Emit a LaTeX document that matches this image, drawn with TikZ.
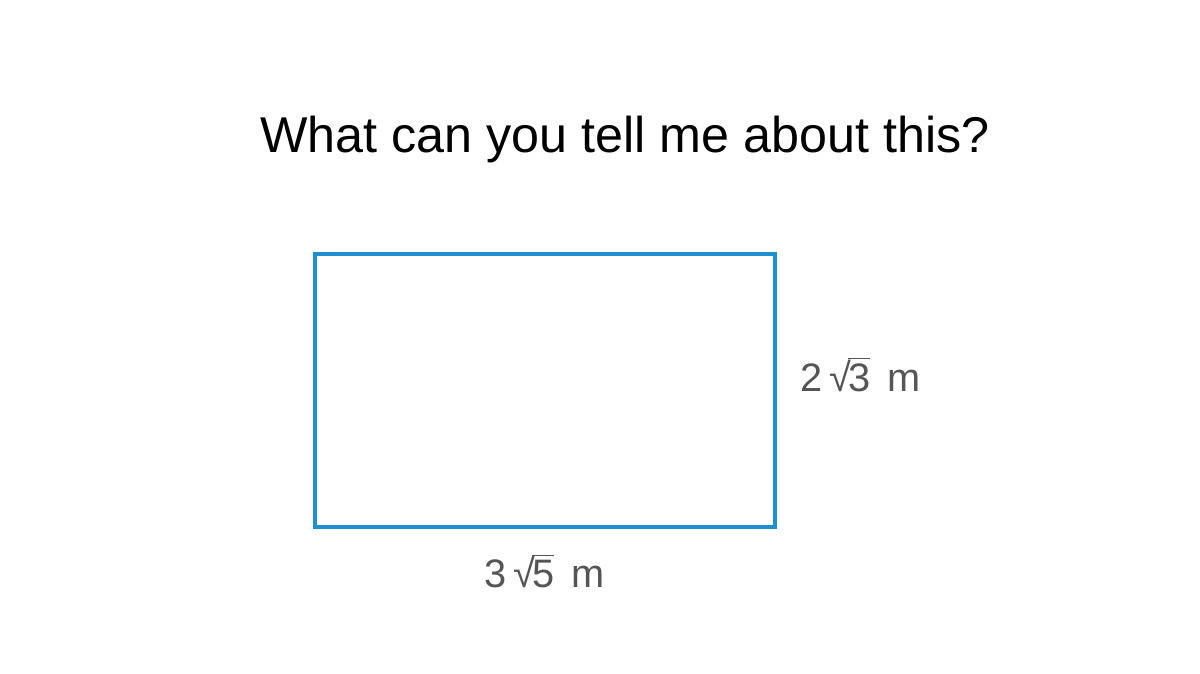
\documentclass[tikz,border=0pt]{standalone}
\usepackage{fontspec}
\setmainfont{Liberation Sans}
\definecolor{edgeblue}{RGB}{30,144,210}
\definecolor{labgray}{RGB}{85,85,85}
\newcommand{\rt}[1]{\char"221A\kern-0.08em$\overline{\hbox{#1}}$}
\tikzset{side/.style={text=labgray,font=\fontsize{11.3}{13}\selectfont,inner sep=0pt}}
\begin{document}
\begin{tikzpicture}[x=0.01cm,y=-0.01cm]
\useasboundingbox[fill=white] (0,0) rectangle (1200,674);
  \node (q) at (625,140) [font=\fontsize{14.3}{17}\selectfont] {What can you tell me about this?};
\node (field) at (545,390.5) [draw=edgeblue, line width=1.2pt, minimum width=4.6cm, minimum height=2.73cm, inner sep=0pt] {};
    \node (h) at (800,374) [side, anchor=west] {2\,\rt{3}\, m};
    \node (w) at (545,571) [side] {3\,\rt{5}\, m};
\end{tikzpicture}
\end{document}
